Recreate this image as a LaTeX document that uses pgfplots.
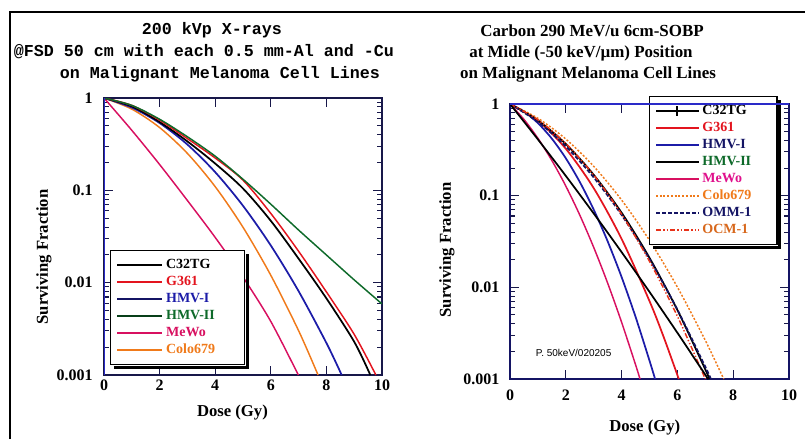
\documentclass[border=0pt]{standalone}
\usepackage{fontspec}
\setmainfont{Liberation Serif}
\newfontfamily\titlemono{Liberation Mono}
\newfontfamily\smallsans{Liberation Sans}
\usepackage{pgfplots}
\pgfplotsset{compat=1.18}

\definecolor{cRed}{HTML}{E3141E}
\definecolor{cBlue}{HTML}{1C1CA8}
\definecolor{cGreen}{HTML}{0E6A2A}
\definecolor{cMeWo}{HTML}{D81060}
\definecolor{cMeWoTxt}{HTML}{E0108C}
\definecolor{cOrange}{HTML}{F07A1A}
\definecolor{cNavy}{HTML}{141464}
\definecolor{cOCM}{HTML}{E8321A}
\definecolor{cOCMTxt}{HTML}{D8681C}
\definecolor{frameBlue}{HTML}{2A2AC8}
\definecolor{axisDark}{HTML}{18184A}

\begin{document}
\begin{tikzpicture}
\useasboundingbox (0,0) rectangle (603.75pt,329.25pt);
\draw[line width=1.2pt] (7.5pt,0) -- (7.5pt,320.25pt) -- (603.75pt,320.25pt);

% left title
\node[anchor=base, font=\titlemono\bfseries\fontsize{12.5}{14}\selectfont] at (159pt,303pt) {200 kVp X-rays};
\node[anchor=base, font=\titlemono\bfseries\fontsize{12.5}{14}\selectfont] at (153pt,286.5pt) {@FSD 50 cm with each 0.5 mm-Al and -Cu};
\node[anchor=base, font=\titlemono\bfseries\fontsize{12.5}{14}\selectfont] at (165pt,270pt) {on Malignant Melanoma Cell Lines};
% right title
\node[anchor=base, font=\bfseries\fontsize{12.7}{14}\selectfont] at (444pt,301.5pt) {Carbon 290 MeV/u 6cm-SOBP};
\node[anchor=base, font=\bfseries\fontsize{12.7}{14}\selectfont] at (435.75pt,285.75pt) {at Midle (-50 keV/µm) Position};
\node[anchor=base, font=\bfseries\fontsize{12.7}{14}\selectfont] at (441pt,270pt) {on Malignant Melanoma Cell Lines};

% ---------------- left axis ----------------
\begin{axis}[name=L,
  scale only axis,
  at={(78pt,48pt)}, anchor=south west, width=208.5pt, height=207.75pt,
  xmin=0, xmax=10, ymode=log, ymin=0.001, ymax=1,
  xtick={0,2,4,6,8,10},
  ytick={0.001,0.01,0.1,1}, yticklabels={0.001,0.01,0.1,1},
  tick align=inside, major tick length=7pt, minor tick length=3.5pt,
  every tick/.style={line width=0.8pt, color=axisDark},
  axis line style={line width=1.3pt, color=axisDark},
  tick label style={font=\bfseries\fontsize{12}{14}\selectfont},
  yticklabel style={xshift=-5pt},
  label style={font=\bfseries\fontsize{12.5}{14}\selectfont},
  /pgf/number format/assume math mode=true,
  ylabel={Surviving Fraction}, xlabel={Dose (Gy)},
  xlabel style={at={(axis description cs:0.462,-0.134)}, anchor=center},
  ylabel style={at={(axis description cs:-0.216,0.426)}, anchor=center},
  legend cell align=left,
  legend image code/.code={\draw[mark repeat=2,mark phase=2,#1] plot coordinates {(0pt,0pt) (17pt,0pt) (34pt,0pt)};},
  legend style={name=legL, at={(rel axis cs:0.0216,0.036)}, anchor=south west,
    draw=black, line width=1pt, fill=white,
    font=\bfseries\fontsize{10.5}{12}\selectfont,
    row sep=1.25pt, column sep=1pt, inner xsep=4pt, inner ysep=5pt,
    nodes={inner sep=1pt, text height=7.5pt, text depth=2pt}},
]
\addplot[smooth, cMeWo, line width=1.1pt, forget plot] coordinates {(0,1)(1,0.4467)(2,0.1905)(3,0.07762)(4,0.0309)(5,0.01148)(6,0.003802)(6.99,0.001)};
\addplot[smooth, cOrange, line width=1.1pt, forget plot] coordinates {(0,1)(1,0.7586)(2,0.4786)(3,0.2512)(4,0.1096)(5,0.03981)(6,0.01202)(7,0.00302)(7.7,0.001)};
\addplot[smooth, cBlue, line width=1.3pt, forget plot] coordinates {(0,1)(1,0.7893)(2,0.5358)(3,0.3133)(4,0.1574)(5,0.06804)(6,0.02529)(7,0.008091)(8,0.002223)(8.55,0.001)};
\addplot[smooth, black, line width=1.3pt, forget plot] coordinates {(0,1)(1,0.8128)(2,0.5495)(3,0.3388)(4,0.1950)(5,0.1047)(6,0.04677)(7,0.0182)(8,0.006761)(9,0.002291)(9.58,0.001)};
\addplot[smooth, cRed, line width=1.1pt, forget plot] coordinates {(0,1)(1,0.8318)(2,0.5754)(3,0.3631)(4,0.2239)(5,0.1288)(6,0.05623)(7,0.02188)(8,0.007943)(9,0.002754)(9.78,0.001)};
\addplot[smooth, cGreen, line width=1.1pt, forget plot] coordinates {(0,1)(1,0.8318)(2,0.5888)(3,0.3802)(4,0.2344)(5,0.1318)(6,0.07079)(7,0.03715)(8,0.01995)(9,0.01072)(10,0.005888)};
\draw[frameBlue, line width=1.6pt] (rel axis cs:0,0) -- (rel axis cs:0,1);
\addlegendimage{black, line width=1.6pt}
\addlegendentry{\makebox[54pt][l]{C32TG}}
\addlegendimage{cRed, line width=1pt}
\addlegendentry{\textcolor{cRed}{G361}}
\addlegendimage{cNavy, line width=1.6pt}
\addlegendentry{\textcolor{cBlue}{HMV-I}}
\addlegendimage{cGreen!60!black, line width=1pt}
\addlegendentry{\textcolor{cGreen}{HMV-II}}
\addlegendimage{cMeWo, line width=1pt}
\addlegendentry{\textcolor{cMeWo}{MeWo}}
\addlegendimage{cOrange, line width=1pt}
\addlegendentry{\textcolor{cOrange}{Colo679}}
\end{axis}
\draw[line width=2.2pt] ([xshift=1.6pt,yshift=-3pt]legL.north east) -- ([xshift=1.6pt,yshift=-1.6pt]legL.south east) -- ([xshift=3pt,yshift=-1.6pt]legL.south west);

% ---------------- right axis ----------------
\begin{axis}[name=R,
  scale only axis,
  at={(382.5pt,45pt)}, anchor=south west, width=209.25pt, height=206.25pt,
  xmin=0, xmax=10, ymode=log, ymin=0.001, ymax=1,
  xtick={0,2,4,6,8,10},
  ytick={0.001,0.01,0.1,1}, yticklabels={0.001,0.01,0.1,1},
  tick align=inside, major tick length=7pt, minor tick length=3.5pt,
  every tick/.style={line width=0.8pt, color=axisDark},
  axis line style={line width=1.3pt, color=cNavy},
  tick label style={font=\bfseries\fontsize{12}{14}\selectfont},
  yticklabel style={xshift=-4.5pt},
  label style={font=\bfseries\fontsize{12.5}{14}\selectfont},
  /pgf/number format/assume math mode=true,
  ylabel={Surviving Fraction}, xlabel={Dose (Gy)},
  xlabel style={at={(axis description cs:0.483,-0.175)}, anchor=center},
  ylabel style={at={(axis description cs:-0.226,0.469)}, anchor=center},
  xticklabel style={yshift=-4.5pt},
  legend cell align=left,
  legend image code/.code={\draw[mark repeat=2,mark phase=2,#1] plot coordinates {(0pt,0pt) (16pt,0pt) (32pt,0pt)};},
  legend style={name=legR, at={(rel axis cs:0.498,1.029)}, anchor=north west,
    draw=black, line width=1pt, fill=white,
    font=\bfseries\fontsize{10.5}{12}\selectfont,
    row sep=1.25pt, column sep=1pt, inner xsep=4pt, inner ysep=5pt,
    nodes={inner sep=1pt, text height=7.5pt, text depth=2pt}},
]
\addplot[smooth, cMeWo, line width=1.1pt, forget plot] coordinates {(0,1)(0.5,0.6792)(1,0.4227)(1.5,0.2421)(2,0.1274)(2.5,0.06152)(3,0.02729)(3.5,0.01112)(4,0.004159)(4.5,0.001432)(4.66,0.001)};
\addplot[smooth, cBlue, line width=1.3pt, forget plot] coordinates {(0,1)(0.5,0.8279)(1,0.6194)(1.5,0.4188)(2,0.2559)(2.5,0.1413)(3,0.07047)(3.5,0.03177)(4,0.01294)(4.5,0.004764)(5,0.001585)(5.2,0.001)};
\addplot[smooth, cRed, line width=1.3pt, forget plot] coordinates {(0,1)(1,0.6577)(2,0.3251)(3,0.1208)(4,0.03373)(5,0.007079)(5.5,0.002913)(6.05,0.001)};
\addplot[smooth, cOrange, line width=1.1pt, dash pattern=on 1.5pt off 1.3pt, forget plot] coordinates {(0,1)(1,0.699)(2,0.415)(3,0.2091)(4,0.08954)(5,0.03254)(6,0.01005)(7,0.002634)(7.66,0.001)};
\addplot[smooth, black, line width=1.3pt, forget plot] coordinates {(0,1)(1,0.6622)(2,0.3664)(3,0.169)(4,0.06516)(5,0.02099)(6,0.005649)(7,0.001271)(7.15,0.001)};
\addplot[smooth, cNavy, line width=1.3pt, dash pattern=on 3pt off 1.5pt, forget plot] coordinates {(0,1)(1,0.637)(2,0.3446)(3,0.1581)(4,0.06161)(5,0.02035)(6,0.005709)(7,0.001359)(7.2,0.001)};
\addplot[smooth, cOCM, line width=1.1pt, dash pattern=on 4pt off 1.5pt on 1pt off 1.5pt on 1pt off 1.5pt, forget plot] coordinates {(0,1)(1,0.672)(2,0.371)(3,0.1683)(4,0.06275)(5,0.01921)(6,0.004837)(7,0.001)};
\addplot[smooth, black, line width=1.3pt, forget plot] coordinates {(0,1)(1,0.4111)(2,0.1644)(3,0.06397)(4,0.02421)(5,0.008913)(6,0.003192)(7,0.001112)(7.1,0.001)};
\node[font=\smallsans\fontsize{7.5}{8}\selectfont] at (axis cs:2.28,0.00193) {P. 50keV/020205};
\addlegendimage{black, line width=1.6pt, mark=+, mark size=3.5pt, mark options={solid}}
\addlegendentry{\makebox[51pt][l]{C32TG}}
\addlegendimage{cRed, line width=1.3pt}
\addlegendentry{\textcolor{cRed}{G361}}
\addlegendimage{cBlue, line width=1.5pt}
\addlegendentry{\textcolor{cNavy}{HMV-I}}
\addlegendimage{black, line width=1.3pt}
\addlegendentry{\textcolor{cGreen}{HMV-II}}
\addlegendimage{cMeWo, line width=1.3pt}
\addlegendentry{\textcolor{cMeWoTxt}{MeWo}}
\addlegendimage{cOrange, line width=1.1pt, dash pattern=on 1.5pt off 1.3pt}
\addlegendentry{\textcolor{cOrange}{Colo679}}
\addlegendimage{cNavy, line width=1.5pt, dash pattern=on 3pt off 1.5pt}
\addlegendentry{\textcolor{cNavy}{OMM-1}}
\addlegendimage{cOCM, line width=1.1pt, dash pattern=on 4pt off 1.5pt on 1pt off 1.5pt on 1pt off 1.5pt}
\addlegendentry{\textcolor{cOCMTxt}{OCM-1}}
\end{axis}
\draw[line width=2.2pt] ([xshift=1.6pt,yshift=-3pt]legR.north east) -- ([xshift=1.6pt,yshift=-1.6pt]legR.south east) -- ([xshift=3pt,yshift=-1.6pt]legR.south west);
\draw[frameBlue, line width=1.3pt] (R.north west) -- (R.north east);
\end{tikzpicture}
\end{document}
